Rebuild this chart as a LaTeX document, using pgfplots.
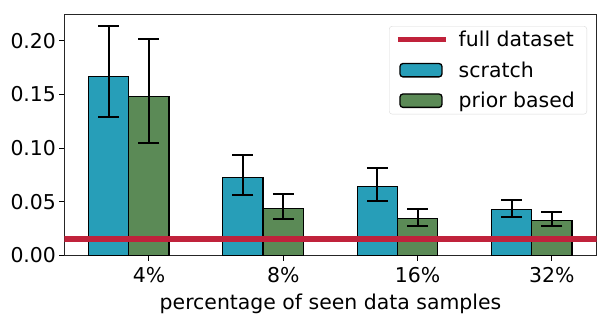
\documentclass[border=0pt]{standalone}
\usepackage{pgfplots}
\usepackage{pgfplotstable}
\pgfplotsset{compat=1.18}
\usepackage{fontspec}
\setmainfont{DejaVu Sans}
\definecolor{cblue}{RGB}{39,158,184}
\definecolor{cgreen}{RGB}{91,138,86}
\definecolor{cred}{RGB}{192,34,59}

\pgfplotsset{
  barlegend/.style={legend image code/.code={\draw[##1] (-2bp,-6.7bp) rectangle (40bp,6.7bp);}},
  linelegend/.style={legend image code/.code={\draw[##1] (-4bp,0bp) -- (44bp,0bp);}},
  errstyle/.style={error bars/.cd, y dir=both, y explicit,
    error bar style={black, line width=2bp},
    error mark options={rotate=90, mark size=10.5bp, line width=2bp, black}},
}

\pgfplotstableread{
x y ep em
-0.3 0.1665 0.0475 0.0375
0.7 0.0728 0.0208 0.0168
1.7 0.0640 0.0175 0.0135
2.7 0.0427 0.0087 0.0071
}\scratch
\pgfplotstableread{
x y ep em
0 0.1479 0.0540 0.0434
1 0.0436 0.0134 0.0096
2 0.0343 0.0087 0.0071
3 0.0328 0.0074 0.0056
}\prior

\begin{document}
\begin{tikzpicture}
\useasboundingbox (-64.5bp,-60.5bp) rectangle (533.5bp,255.5bp);
\begin{axis}[
  at={(0,0)}, anchor=south west,
  scale only axis,
  width=532bp, height=241bp,
  xmin=-0.629, xmax=3.332,
  ymin=0, ymax=0.2244,
  xtick={0,1,2,3},
  xticklabels={4\%,8\%,16\%,32\%},
  ytick={0,0.05,0.10,0.15,0.20},
  yticklabel style={/pgf/number format/.cd, fixed, fixed zerofill, precision=2},
  xticklabel style={yshift=-3bp},
  /pgf/number format/assume math mode=true,
  tick align=outside,
  xtick pos=bottom, ytick pos=left,
  major tick length=5bp,
  tick style={black, line width=1bp},
  axis line style={black!85, line width=1bp},
  tick label style={font=\fontsize{20.5}{24}\selectfont},
  label style={font=\fontsize{20.5}{24}\selectfont},
  xlabel={percentage of seen data samples},
  xlabel style={yshift=-5bp},
  legend cell align=left,
  legend style={at={(rel axis cs:0.9784,0.9564)}, anchor=north east,
    xshift=2bp, yshift=-1bp,
    draw=black!15, rounded corners=3bp, fill=white,
    font=\fontsize{20.5}{24}\selectfont, row sep=9.5bp, inner sep=3bp,
    inner xsep=6bp, column sep=4bp,
    nodes={inner xsep=6bp}},
]
\addlegendimage{cred, line width=5.5bp, linelegend}
\addlegendentry{full dataset}
\addplot[ybar, bar width=40.3bp, bar shift=0bp, fill=cblue, draw=black, line width=1.3bp,
  barlegend, errstyle]
  table[x=x, y=y, y error plus=ep, y error minus=em] {\scratch};
\addlegendentry{scratch}
\addplot[ybar, bar width=40.3bp, bar shift=0bp, fill=cgreen, draw=black, line width=1.3bp,
  barlegend, errstyle]
  table[x=x, y=y, y error plus=ep, y error minus=em] {\prior};
\addlegendentry{prior based}
\addplot[cred, line width=5.5bp, forget plot] coordinates {(-0.629,0.0154) (3.332,0.0154)};
\end{axis}
\end{tikzpicture}
\end{document}
